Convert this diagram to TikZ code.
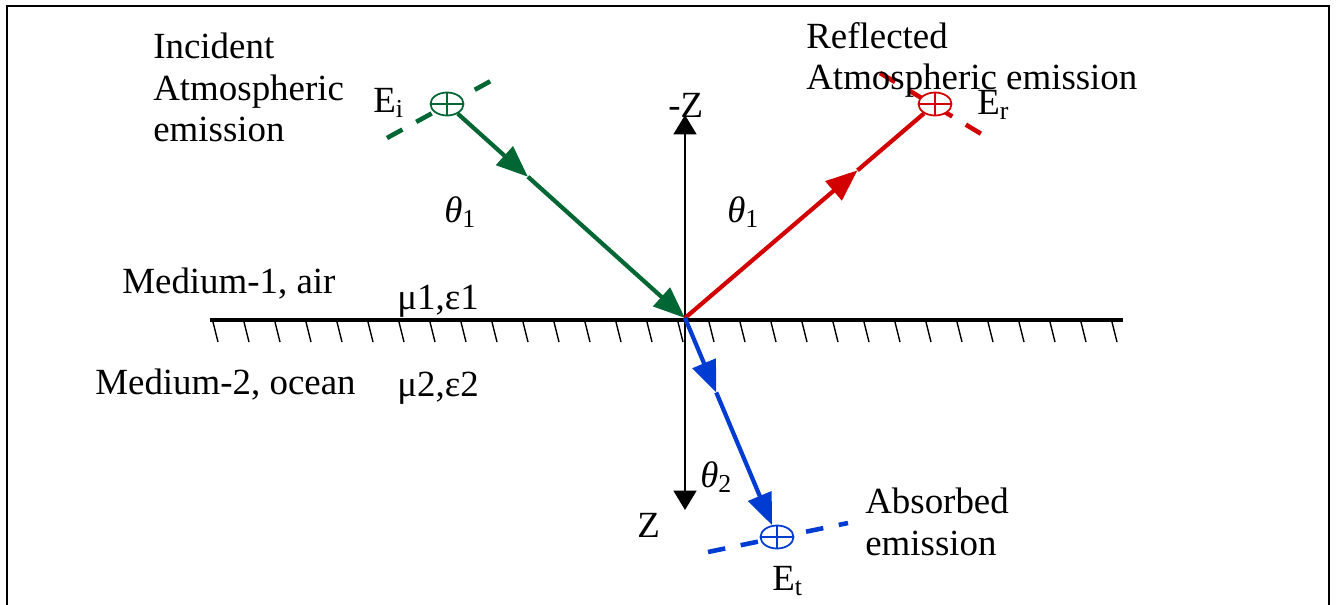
\documentclass[tikz,border=0pt]{standalone}
\usepackage{fontspec}
\setmainfont{Liberation Serif}
\usetikzlibrary{arrows.meta,calc,shapes.geometric}
\definecolor{incgreen}{RGB}{0,102,51}
\definecolor{refred}{RGB}{210,0,0}
\definecolor{absblue}{RGB}{0,60,210}
\tikzset{
  lbl/.style={font=\fontsize{21}{23.5}\selectfont, inner sep=0pt, anchor=base west},
  para/.style={lbl, align=left, anchor=north west},
  ray/.style={line width=2.4pt},
  tip/.style={-{Triangle[length=18pt,width=14pt]}},
  zaxis/.style={line width=1.1pt},
  ztip/.style={-{Triangle[length=11pt,width=13pt]}},
  wavefront/.style={line width=2.6pt, dash pattern=on 10pt off 9pt},
  source/.style={ellipse, draw=#1, fill=white, line width=1pt,
    minimum width=0.66cm, minimum height=0.46cm, inner sep=0pt},
  hatch/.style={line width=0.8pt},
}
\begin{document}
\begin{tikzpicture}[x=0.02cm,y=-0.02cm]
  \useasboundingbox (0,0) rectangle (1336,605);
  % frame, open at the bottom
  \draw[line width=1.4pt] (7,605) -- (7,6) -- (1329,6) -- (1329,605);

  % interface between the two media
  \coordinate (O) at (685,318);
  \draw[line width=2.3pt] (210,320) -- (1123,320);
  \foreach \i in {0,...,29}
    \draw[hatch] ({213+31*\i},322) -- ++(5,20);

  % z axis
  \coordinate (mz) at (685,115);
  \coordinate (pz) at (685,510);
  \draw[zaxis,ztip] (O) -- (mz);
  \draw[zaxis,ztip] (O) -- (pz);
  \node[lbl] (mzl) at (668,117) {-Z};
  \node[lbl] (pzl) at (637,537) {Z};

  % wavefronts behind the sources
  \draw[wavefront,incgreen] (387,138) -- (498,77);
  \draw[wavefront,refred] (880,73) -- (988,138);
  \draw[wavefront,absblue] (708,552) -- (848,523);

  % sources
  \node[source=incgreen] (ei) at (447,104) {};
  \node[source=refred] (er) at (935,104) {};
  \node[source=absblue] (et) at (777,537) {};
  \foreach \s/\c in {ei/incgreen,er/refred,et/absblue}
    \draw[line width=0.8pt,\c] (\s.north) -- (\s.south) (\s.west) -- (\s.east);

  % incident ray
  \coordinate (gm) at ($(ei)!0.34!(O)$);
  \draw[ray,tip,incgreen] (ei) -- (gm);
  \draw[ray,tip,incgreen] (gm) -- (O);
  % reflected ray
  \coordinate (rm) at ($(O)!0.69!(er)$);
  \draw[ray,tip,refred] (O) -- (rm);
  \draw[ray,refred] (rm) -- (er);
  % transmitted ray
  \coordinate (bm) at ($(O)!0.34!(et)$);
  \draw[ray,tip,absblue] (O) -- (bm);
  \draw[ray,tip,absblue] (bm) -- (et);

  % labels
  \node[lbl] (eil) at (373,112) {E\textsubscript{i}};
  \node[lbl] (erl) at (977,114) {E\textsubscript{r}};
  \node[lbl] (etl) at (772,590) {E\textsubscript{t}};
  \node[lbl] (th1) at (444,222) {{\itshape θ}\textsubscript{1}};
  \node[lbl] (th1r) at (727,222) {{\itshape θ}\textsubscript{1}};
  \node[lbl] (th2) at (700,487) {{\itshape θ}\textsubscript{2}};
  \node[para] (inc) at (153,33) {Incident\\Atmospheric\\emission};
  \node[para] (refl) at (806,22) {Reflected\\Atmospheric emission};
  \node[para] (abs) at (865,488) {Absorbed\\emission};
  \node[lbl] (med1) at (122,293) {Medium-1, air};
  \node[lbl] (mu1) at (397,309) {μ1,ε1};
  \node[lbl] (med2) at (95,394) {Medium-2, ocean};
  \node[lbl] (mu2) at (397,396) {μ2,ε2};
\end{tikzpicture}
\end{document}
